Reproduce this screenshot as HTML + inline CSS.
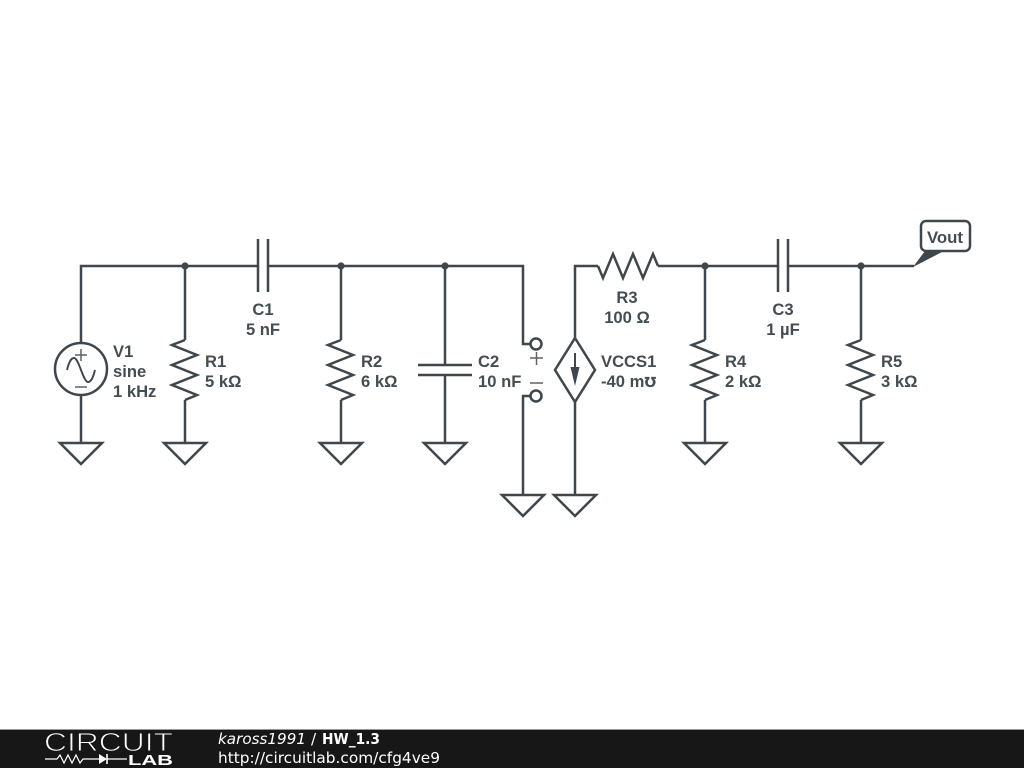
<!DOCTYPE html>
<html>
<head>
<meta charset="utf-8">
<style>
html,body{margin:0;padding:0;background:#fff;width:1024px;height:768px;overflow:hidden}
svg{display:block}
.w{fill:none;stroke:#3f474c;stroke-width:2.5;stroke-linejoin:miter}
.t{font-family:"Liberation Sans","DejaVu Sans",sans-serif;font-size:16.6px;font-weight:bold;fill:#454d52}
.m{text-anchor:middle}
.f{font-family:"DejaVu Sans",sans-serif;font-size:15.3px;fill:#fff}
</style>
</head>
<body>
<svg width="1024" height="768" viewBox="0 0 1024 768" xmlns="http://www.w3.org/2000/svg">
<rect width="1024" height="768" fill="#fff"/>
<g class="w">
<path d="M81 343V266H258M268 266H523V344H530"/>
<path d="M81 395V443"/>
<path d="M185 266V340M185 400V443"/>
<path d="M341 266V340M341 400V443"/>
<path d="M445 266V365M445 375V443"/>
<path d="M530 396H523V495"/>
<path d="M575 338V266H598M658 266H778M788 266H914"/>
<path d="M575 402V495"/>
<path d="M705 266V340M705 400V443"/>
<path d="M861 266V340M861 400V443"/>
<path d="M185 340L172 345L197 355L172 365L197 375L172 385L197 395L185 400"/>
<path d="M341 340L328 345L353 355L328 365L353 375L328 385L353 395L341 400"/>
<path d="M705 340L692 345L717 355L692 365L717 375L692 385L717 395L705 400"/>
<path d="M861 340L848 345L873 355L848 365L873 375L848 385L873 395L861 400"/>
<path d="M598 266L603 278L613 254L623 278L633 254L643 278L653 254L658 266"/>
<path d="M258 239V292M268 239V292M778 239V292M788 239V292M418 365H472M418 375H472"/>
<path d="M60 443H102L81 464Z"/>
<path d="M164 443H206L185 464Z"/>
<path d="M320 443H362L341 464Z"/>
<path d="M424 443H466L445 464Z"/>
<path d="M502 495H544L523 516Z"/>
<path d="M554 495H596L575 516Z"/>
<path d="M684 443H726L705 464Z"/>
<path d="M840 443H882L861 464Z"/>
<circle cx="81" cy="369" r="26"/>
<circle cx="536" cy="344" r="5.5"/>
<circle cx="536" cy="396" r="5.5"/>
<path d="M575 338L595 370L575 402L555 370Z"/>
<path d="M575 353V372" stroke-width="2"/>
<rect x="921" y="221" width="49" height="30" rx="5"/>
</g>
<g fill="none" stroke="#5a6368" stroke-width="1.5">
<path d="M75 355H87M81 349V361M75 387H87"/>
<path d="M67 370C69 362 71 358 74 358C79 358 83 382 88 382C91 382 93 378 95 370" stroke-width="1.9" stroke="#3f474c"/>
<path d="M530 358H543M536.5 352V365M530 383H543"/>
</g>
<g fill="#3f474c">
<circle cx="185" cy="266" r="3.6"/>
<circle cx="341" cy="266" r="3.6"/>
<circle cx="445" cy="266" r="3.6"/>
<circle cx="705" cy="266" r="3.6"/>
<circle cx="861" cy="266" r="3.6"/>
<path d="M570.5 367H579.5L575 386Z"/>
<path d="M913 267L925 251H944Z"/>
</g>
<g class="t">
<text x="113" y="357">V1</text>
<text x="113" y="377">sine</text>
<text x="113" y="397">1 kHz</text>
<text x="205" y="367">R1</text>
<text x="205" y="387">5 kΩ</text>
<text x="263" y="315" class="m">C1</text>
<text x="263" y="335" class="m">5 nF</text>
<text x="361" y="367">R2</text>
<text x="361" y="387">6 kΩ</text>
<text x="478" y="367">C2</text>
<text x="478" y="387">10 nF</text>
<text x="627" y="303" class="m">R3</text>
<text x="627" y="323" class="m">100 Ω</text>
<text x="601" y="367">VCCS1</text>
<text x="601" y="387">-40 m<tspan font-size="14">℧</tspan></text>
<text x="725" y="367">R4</text>
<text x="725" y="387">2 kΩ</text>
<text x="783" y="315" class="m">C3</text>
<text x="783" y="335" class="m">1 µF</text>
<text x="881" y="367">R5</text>
<text x="881" y="387">3 kΩ</text>
<text x="945" y="243" class="m" style="font-size:16.8px">Vout</text>
</g>
<rect x="0" y="729" width="1024" height="1" fill="#999"/>
<rect x="0" y="730" width="1024" height="38" fill="#171717"/>
<text x="44" y="751" font-family="Liberation Sans,sans-serif" font-size="26" fill="#fff" stroke="#171717" stroke-width=".9" textLength="129" lengthAdjust="spacingAndGlyphs">CIRCUIT</text>
<text x="128" y="765" font-family="Liberation Sans,sans-serif" font-weight="bold" font-size="15" fill="#fff" textLength="45" lengthAdjust="spacingAndGlyphs">LAB</text>
<g fill="none" stroke="#fff" stroke-width="1.2">
<path d="M45 759H57L60 755L64 763L68 755L72 763L76 755L80 763L83 759H99M107 759H127"/>
<path d="M107 754V764" stroke-width="1.6"/>
</g>
<path d="M99 754L107 759L99 764Z" fill="#fff"/>
<text x="218" y="744" class="f" font-style="italic" textLength="88" lengthAdjust="spacingAndGlyphs">kaross1991</text>
<text x="311" y="744" class="f">/</text>
<text x="322" y="744" class="f" font-weight="bold" textLength="58" lengthAdjust="spacingAndGlyphs">HW_1.3</text>
<text x="218" y="763" class="f" textLength="222" lengthAdjust="spacingAndGlyphs">http://circuitlab.com/cfg4ve9</text>
</svg>
</body>
</html>
